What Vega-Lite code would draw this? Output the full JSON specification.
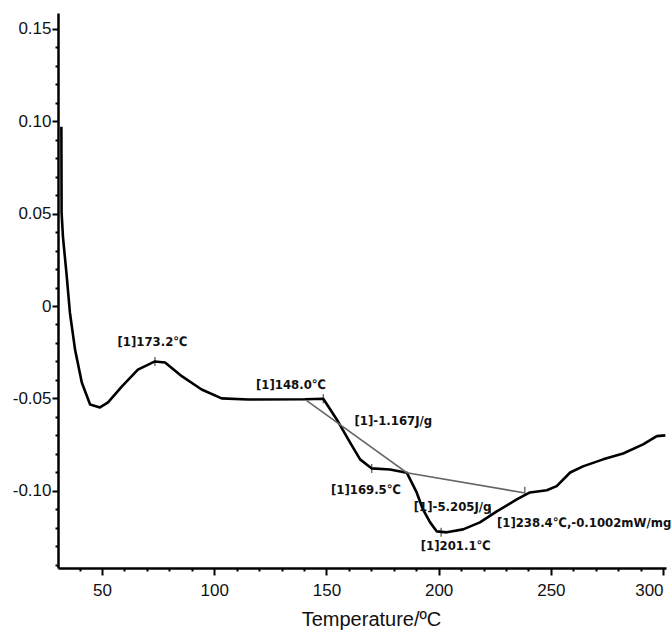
{
  "$schema": "https://vega.github.io/schema/vega-lite/v6.json",
  "width": 608,
  "height": 555,
  "autosize": "none",
  "padding": {"left": 58, "top": 13, "right": 6, "bottom": 65},
  "background": "white",
  "config": {"view": {"stroke": null}},
  "datasets": {
    "main": [
      {"x": 31.9, "y": 0.097},
      {"x": 32.0, "y": 0.0506},
      {"x": 32.6, "y": 0.0376},
      {"x": 34.3, "y": 0.016},
      {"x": 35.7, "y": -0.0035},
      {"x": 38.0, "y": -0.0236},
      {"x": 41.0, "y": -0.0414},
      {"x": 44.7, "y": -0.0533},
      {"x": 49.1, "y": -0.0549},
      {"x": 52.7, "y": -0.0522},
      {"x": 58.8, "y": -0.0436},
      {"x": 66.0, "y": -0.0344},
      {"x": 73.6, "y": -0.03},
      {"x": 78.1, "y": -0.0306},
      {"x": 85.7, "y": -0.0381},
      {"x": 94.4, "y": -0.0452},
      {"x": 103.3, "y": -0.05},
      {"x": 115.1, "y": -0.0506},
      {"x": 140.5, "y": -0.0505},
      {"x": 148.6, "y": -0.0502},
      {"x": 154.6, "y": -0.0614},
      {"x": 160.5, "y": -0.0738},
      {"x": 165.0, "y": -0.083},
      {"x": 170.2, "y": -0.0879},
      {"x": 178.3, "y": -0.0885},
      {"x": 185.8, "y": -0.0902},
      {"x": 190.2, "y": -0.1009},
      {"x": 193.0, "y": -0.1101},
      {"x": 196.2, "y": -0.1171},
      {"x": 199.2, "y": -0.122},
      {"x": 203.6, "y": -0.1225},
      {"x": 210.9, "y": -0.1209},
      {"x": 218.4, "y": -0.1171},
      {"x": 225.9, "y": -0.1112},
      {"x": 234.8, "y": -0.1047},
      {"x": 240.7, "y": -0.1009},
      {"x": 248.2, "y": -0.0997},
      {"x": 252.6, "y": -0.0975},
      {"x": 258.6, "y": -0.0901},
      {"x": 264.3, "y": -0.0868},
      {"x": 273.3, "y": -0.083},
      {"x": 282.2, "y": -0.0798},
      {"x": 291.1, "y": -0.0749},
      {"x": 297.2, "y": -0.0704},
      {"x": 301.0, "y": -0.07}
    ],
    "base": [
      {"x": 141.2, "y": -0.0512},
      {"x": 185.8, "y": -0.0902},
      {"x": 238.0, "y": -0.1011}
    ],
    "marks": [
      {"x": 73.6, "y": -0.03},
      {"x": 148.6, "y": -0.0502},
      {"x": 170.2, "y": -0.0879},
      {"x": 201.1, "y": -0.1225},
      {"x": 223.0, "y": -0.111},
      {"x": 238.4, "y": -0.1002}
    ],
    "labels": [
      {"x": 72.5, "y": -0.0195, "label": "[1]173.2℃"},
      {"x": 134.2, "y": -0.0425, "label": "[1]148.0℃"},
      {"x": 179.8, "y": -0.0623, "label": "[1]-1.167J/g"},
      {"x": 167.6, "y": -0.0997, "label": "[1]169.5℃"},
      {"x": 206.2, "y": -0.1087, "label": "[1]-5.205J/g"},
      {"x": 264.8, "y": -0.1173, "label": "[1]238.4℃,-0.1002mW/mg"},
      {"x": 207.6, "y": -0.13, "label": "[1]201.1℃"}
    ]
  },
  "encoding": {
    "x": {
      "field": "x",
      "type": "quantitative",
      "scale": {"domain": [30.4, 301.3], "nice": false, "zero": false},
      "axis": {
        "title": "Temperature/ºC",
        "titleFont": "Liberation Sans",
        "titleFontSize": 20,
        "titleFontWeight": "normal",
        "titleColor": "#111",
        "titlePadding": 11,
        "titleX": 313,
        "titleAnchor": "middle",
        "values": [40, 50, 60, 70, 80, 90, 100, 110, 120, 130, 140, 150, 160, 170, 180, 190, 200, 210, 220, 230, 240, 250, 260, 270, 280, 290, 300],
        "labelExpr": "datum.value % 50 == 0 ? format(datum.value, 'd') : ''",
        "labelFont": "Liberation Sans",
        "labelFontSize": 17,
        "labelColor": "#111",
        "labelPadding": 7,
        "labelOverlap": false,
        "labelFlush": 6,
        "grid": false,
        "domainColor": "#000",
        "domainWidth": 2.5,
        "tickColor": "#000",
        "tickWidth": 2,
        "tickSize": {"condition": {"test": "datum.value % 50 == 0", "value": 7}, "value": 3}
      }
    },
    "y": {
      "field": "y",
      "type": "quantitative",
      "scale": {"domain": [-0.1418, 0.1586], "nice": false, "zero": false},
      "axis": {
        "title": null,
        "values": [-0.14, -0.13, -0.12, -0.11, -0.1, -0.09, -0.08, -0.07, -0.06, -0.05, -0.04, -0.03, -0.02, -0.01, 0, 0.01, 0.02, 0.03, 0.04, 0.05, 0.06, 0.07, 0.08, 0.09, 0.1, 0.11, 0.12, 0.13, 0.14, 0.15],
        "labelExpr": "datum.value == 0 ? '0' : (abs(round(datum.value * 100)) % 5 == 0 ? (datum.value < 0 ? '-' : '') + format(abs(datum.value), '.2f') : '')",
        "labelFont": "Liberation Sans",
        "labelFontSize": 17,
        "labelColor": "#111",
        "labelPadding": 1,
        "labelOverlap": false,
        "labelFlush": false,
        "grid": false,
        "domainColor": "#000",
        "domainWidth": 2.5,
        "tickColor": "#000",
        "tickWidth": 2,
        "tickSize": {"condition": {"test": "abs(round(datum.value * 100)) % 5 == 0", "value": 6}, "value": 3}
      }
    }
  },
  "layer": [
    {
      "data": {"name": "main"},
      "mark": {"type": "line", "color": "#000", "strokeWidth": 2.6, "strokeJoin": "round"}
    },
    {
      "data": {"name": "base"},
      "mark": {"type": "line", "color": "#666", "strokeWidth": 1.6}
    },
    {
      "data": {"name": "marks"},
      "mark": {"type": "tick", "orient": "vertical", "color": "#000", "size": 9, "thickness": 1.2}
    },
    {
      "data": {"name": "labels"},
      "mark": {"type": "text", "font": "'DejaVu Sans Condensed', 'Liberation Sans Narrow', 'DejaVu Sans', sans-serif", "fontWeight": "bold", "fontSize": 13, "color": "#111", "align": "center", "baseline": "middle"},
      "encoding": {"text": {"field": "label", "type": "nominal"}}
    }
  ]
}
